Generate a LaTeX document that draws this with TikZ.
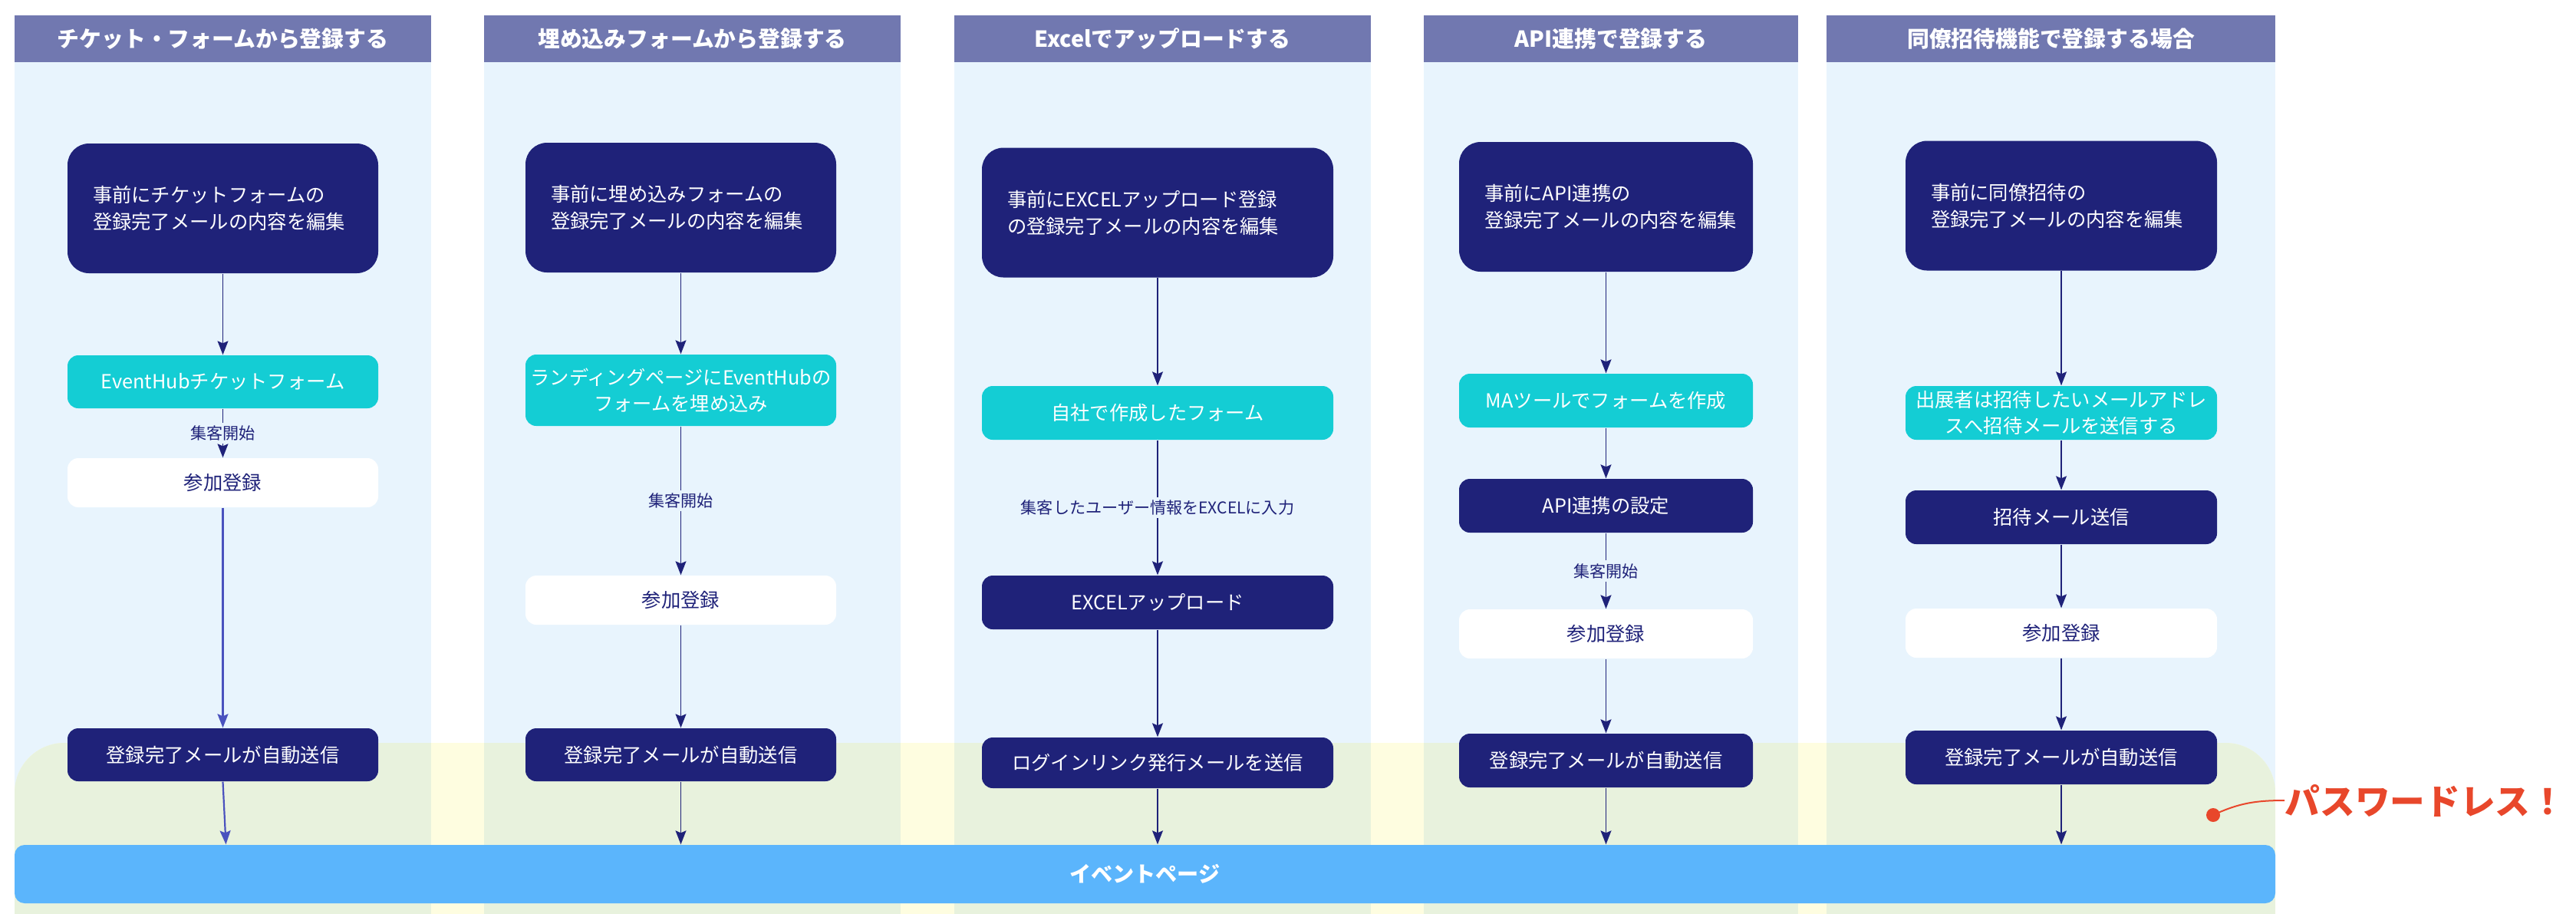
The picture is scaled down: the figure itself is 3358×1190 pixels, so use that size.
\documentclass[tikz,border=0pt]{standalone}
\usepackage{fontspec}
\setmainfont{Noto Sans CJK JP}
\usetikzlibrary{arrows.meta}

\definecolor{lanebg}{HTML}{E8F4FD}
\definecolor{headbg}{HTML}{7178B0}
\definecolor{navy}{HTML}{1F2279}
\definecolor{formcyan}{HTML}{14CDD4}
\definecolor{pageblue}{HTML}{5BB5FC}
\definecolor{bandyellow}{HTML}{FEFDE0}
\definecolor{bandgreen}{HTML}{E8F2DD}
\definecolor{linkblue}{HTML}{4A52BE}
\definecolor{pwred}{HTML}{E8472B}

\begin{document}
\begin{tikzpicture}[x=0.1mm, y=-0.1mm,
    line/.style={draw=navy, line width=0.12mm, -{Stealth[length=1.8mm,width=1.4mm,inset=0.3mm]}},
    lightline/.style={line, draw=linkblue, fill=linkblue, line width=0.22mm},
    lanehead/.style={fill=headbg, text=white, font=\bfseries\fontsize{8.2}{10}\selectfont, minimum height=6.1mm, inner sep=0pt},
    prep/.style={fill=navy, text=white, rounded corners=2.8mm, font=\fontsize{7.2}{10}\selectfont, align=left, inner xsep=3.3mm, minimum height=16.9mm},
    darkstep/.style={fill=navy, text=white, rounded corners=1.4mm, font=\fontsize{7.2}{9.8}\selectfont, minimum height=6.9mm, align=center, inner sep=0pt},
    formstep/.style={darkstep, fill=formcyan},
    userstep/.style={darkstep, fill=white, text=navy, minimum height=6.4mm},
    flowlabel/.style={fill=lanebg, text=navy, font=\fontsize{6}{8}\selectfont, inner sep=0.4mm},
    ]
    \useasboundingbox (0,0) rectangle (3358,1190);

    % Lanes and the passwordless band
    \foreach \l/\r in {19/562, 631/1174, 1244/1787, 1856/2344, 2381/2966}
      \fill [lanebg] (\l,20) rectangle (\r,1300);
    \fill [bandyellow, rounded corners=6.5mm] (19,1300) -- (19,968) -- (2966,968) -- (2966,1300) -- cycle;
    \begin{scope}
      \clip [rounded corners=6.5mm] (19,1300) -- (19,968) -- (2966,968) -- (2966,1300) -- cycle;
      \foreach \l/\r in {19/562, 631/1174, 1244/1787, 1856/2344, 2381/2966}
        \fill [bandgreen] (\l,900) rectangle (\r,1300);
    \end{scope}

    % Lane headers
    \node [lanehead, minimum width=54.3mm] (h1) at (290.5,50.5) {チケット・フォームから登録する};
    \node [lanehead, minimum width=54.3mm] (h2) at (902.5,50.5) {埋め込みフォームから登録する};
    \node [lanehead, minimum width=54.3mm] (h3) at (1515.5,50.5) {Excelでアップロードする};
    \node [lanehead, minimum width=48.8mm] (h4) at (2100,50.5) {API連携で登録する};
    \node [lanehead, minimum width=58.5mm] (h5) at (2673.5,50.5) {同僚招待機能で登録する場合};

    % Event page
    \node [fill=pageblue, text=white, font=\bfseries\fontsize{8}{10}\selectfont, minimum width=294.7mm, minimum height=7.6mm, rounded corners=1.3mm] (page) at (1492.5,1139) {イベントページ};

    % Ticket form
    \node [prep, text width=33.9mm] (a1) at (290.5,271.5) {事前にチケットフォームの\\登録完了メールの内容を編集};
    \node [formstep, minimum width=40.5mm, below of=a1, yshift=-12.6mm] (a2) {EventHubチケットフォーム};
    \node [userstep, minimum width=40.5mm, below of=a2, yshift=-3.15mm] (a3) {参加登録};
    \node [darkstep, minimum width=40.5mm, below of=a3, yshift=-25.45mm] (a4) {登録完了メールが自動送信};

    % Embedded form
    \node [prep, text width=33.9mm] (b1) at (887.5,270.5) {事前に埋め込みフォームの\\登録完了メールの内容を編集};
    \node [formstep, minimum width=40.5mm, minimum height=9.3mm, below of=b1, yshift=-13.8mm] (b2) {ランディングページにEventHubの\\フォームを埋め込み};
    \node [userstep, minimum width=40.5mm, below of=b2, yshift=-17.35mm] (b3) {参加登録};
    \node [darkstep, minimum width=40.5mm, below of=b3, yshift=-10.15mm] (b4) {登録完了メールが自動送信};

    % Excel upload
    \node [prep, text width=39.2mm] (c1) at (1509,277) {事前にEXCELアップロード登録\\の登録完了メールの内容を編集};
    \node [formstep, minimum width=45.8mm, minimum height=7mm, below of=c1, yshift=-16.1mm] (c2) {自社で作成したフォーム};
    \node [darkstep, minimum width=45.8mm, minimum height=7mm, below of=c2, yshift=-14.7mm] (c3) {EXCELアップロード};
    \node [darkstep, minimum width=45.8mm, minimum height=6.6mm, below of=c3, yshift=-10.9mm] (c4) {ログインリンク発行メールを送信};

    % API
    \node [prep, text width=31.7mm] (d1) at (2093.5,269.5) {事前にAPI連携の\\登録完了メールの内容を編集};
    \node [formstep, minimum width=38.3mm, minimum height=7mm, below of=d1, yshift=-15.25mm] (d2) {MAツールでフォームを作成};
    \node [darkstep, minimum width=38.3mm, minimum height=7mm, below of=d2, yshift=-3.7mm] (d3) {API連携の設定};
    \node [userstep, minimum width=38.3mm, below of=d3, yshift=-6.7mm] (d4) {参加登録};
    \node [darkstep, minimum width=38.3mm, minimum height=7mm, below of=d4, yshift=-6.5mm] (d5) {登録完了メールが自動送信};

    % Colleague invitation
    \node [prep, text width=34mm] (e1) at (2687,268) {事前に同僚招待の\\登録完了メールの内容を編集};
    \node [formstep, minimum width=40.6mm, minimum height=7mm, below of=e1, yshift=-17mm] (e2) {出展者は招待したいメールアドレ\\スへ招待メールを送信する};
    \node [darkstep, minimum width=40.6mm, minimum height=7mm, below of=e2, yshift=-3.6mm] (e3) {招待メール送信};
    \node [userstep, minimum width=40.6mm, below of=e3, yshift=-5.1mm] (e4) {参加登録};
    \node [darkstep, minimum width=40.6mm, minimum height=7mm, below of=e4, yshift=-6.2mm] (e5) {登録完了メールが自動送信};

    % Draw edges
    \path [line] (a1) -- (a2);
    \path [line] (a2) -- node [flowlabel] {集客開始} (a3);
    \path [lightline] (a3) -- (a4);
    \path [lightline] (a4.south) -- ([xshift=0.4mm]a4.south |- page.north);

    \path [line] (b1) -- (b2);
    \path [line] (b2) -- node [flowlabel] {集客開始} (b3);
    \path [line] (b3) -- (b4);
    \path [line] (b4) -- (b4 |- page.north);

    \path [line] (c1) -- (c2);
    \path [line] (c2) -- node [flowlabel] {集客したユーザー情報をEXCELに入力} (c3);
    \path [line] (c3) -- (c4);
    \path [line] (c4) -- (c4 |- page.north);

    \path [line] (d1) -- (d2);
    \path [line] (d2) -- (d3);
    \path [line] (d3) -- node [flowlabel] {集客開始} (d4);
    \path [line] (d4) -- (d5);
    \path [line] (d5) -- (d5 |- page.north);

    \path [line] (e1) -- (e2);
    \path [line] (e2) -- (e3);
    \path [line] (e3) -- (e4);
    \path [line] (e4) -- (e5);
    \path [line] (e5) -- (e5 |- page.north);

    % Passwordless note
    \node [anchor=west, inner sep=0pt, text=pwred, font=\bfseries\fontsize{13}{15}\selectfont] (pwless) at (2978,1043) {パスワードレス！};
    \node [circle, fill=pwred, minimum size=1.8mm, inner sep=0pt] (pwdot) at (2885,1062) {};
    \draw [pwred, line width=0.2mm] (pwdot.center) to [out=25, in=180] (pwless.west);
  \end{tikzpicture}
\end{document}
